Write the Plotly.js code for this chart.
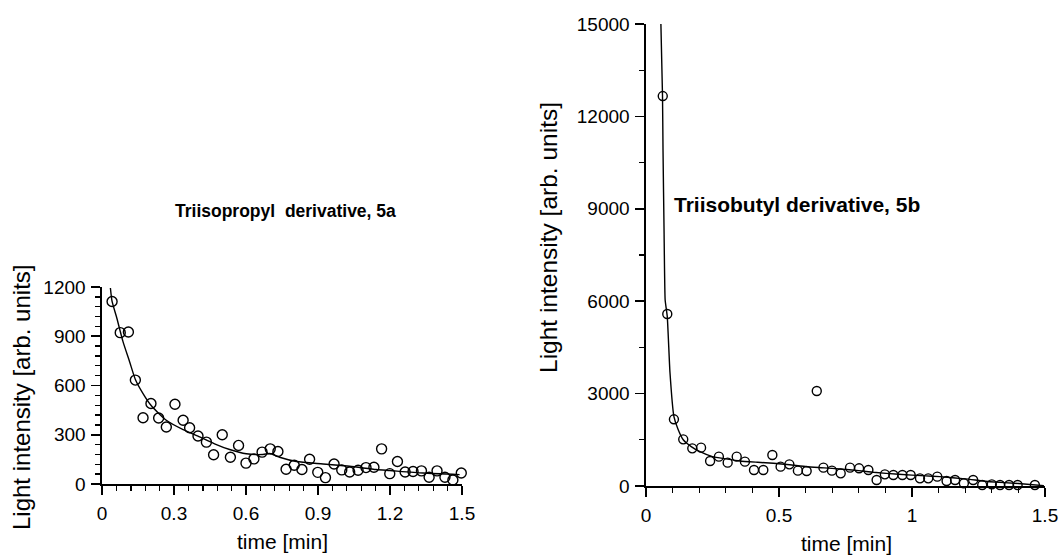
<!DOCTYPE html>
<html>
<head>
<meta charset="utf-8">
<script src="https://cdn.plot.ly/plotly-3.0.1.min.js"></script>
<style>
html,body{margin:0;padding:0;background:#fff;}
#chart{width:1061px;height:555px;}
</style>
</head>
<body>
<div id="chart"></div>
<script>
// Panel 5a: Triisopropyl derivative (measured points)
const timeA = [0.042,0.076,0.110,0.139,0.171,0.204,0.236,0.268,0.304,0.338,0.365,0.400,0.435,0.465,0.501,0.535,0.569,0.600,0.633,0.667,0.701,0.733,0.767,0.801,0.833,0.865,0.899,0.931,0.967,0.999,1.032,1.067,1.100,1.133,1.165,1.199,1.231,1.263,1.296,1.331,1.363,1.396,1.429,1.462,1.497];
const intensityA = [1112,922,926,633,404,490,402,347,486,388,343,292,255,178,300,163,235,127,153,194,214,198,90,114,88,151,71,39,122,86,73,84,100,102,214,63,137,73,76,80,41,80,41,24,67];
// Panel 5a fitted curve
const fitTimeA = [0.035,0.042,0.060,0.0875,0.115,0.139,0.171,0.204,0.268,0.338,0.400,0.469,0.532,0.601,0.671,0.699,0.740,0.810,0.921,1.032,1.143,1.199,1.337,1.490];
const fitIntensityA = [1194,1112,1020,867,745,637,551,480,388,331,292,245,210,184,180,186,163,137,122,108,88,82,67,57];

// Panel 5b: Triisobutyl derivative (measured points)
const timeB = [0.063,0.080,0.105,0.140,0.174,0.207,0.241,0.274,0.307,0.341,0.372,0.406,0.441,0.475,0.506,0.539,0.571,0.604,0.642,0.667,0.699,0.732,0.767,0.801,0.836,0.867,0.898,0.930,0.964,0.995,1.030,1.061,1.095,1.130,1.162,1.195,1.230,1.264,1.300,1.331,1.365,1.397,1.429,1.462,1.496];
const intensityB = [12660,5584,2165,1515,1223,1245,812,953,758,953,790,520,520,1006,628,703,498,487,3084,595,498,411,595,574,520,195,379,357,357,357,249,249,303,162,195,87,195,32,54,32,32,32,-76,32,-22];
// Panel 5b fitted curve
const fitTimeB = [0.056,0.062,0.064,0.068,0.072,0.080,0.090,0.105,0.120,0.140,0.170,0.203,0.250,0.300,0.353,0.420,0.479,0.540,0.604,0.670,0.729,0.800,0.855,0.950,1.050,1.105,1.200,1.293,1.400,1.496];
const fitIntensityB = [15000,12700,10900,8200,6040,5500,3700,2250,1850,1500,1280,1114,953,880,812,770,737,690,627,590,552,500,444,380,330,303,230,140,80,10];

// Tick labels
const xTicksA = [0, 0.3, 0.6, 0.9, 1.2, 1.5];
const xTickTextA = ['0', '0.3', '0.6', '0.9', '1.2', '1.5'];
const yTicksA = [0, 300, 600, 900, 1200];
const yTickTextA = ['0', '300', '600', '900', '1200'];
const xTicksB = [0, 0.5, 1, 1.5];
const xTickTextB = ['0', '0.5', '1', '1.5'];
const yTicksB = [0, 3000, 6000, 9000, 12000, 15000];
const yTickTextB = ['0', '3000', '6000', '9000', '12000', '15000'];

const titleA = "Triisopropyl  derivative, 5a";
const titleB = "Triisobutyl derivative, 5b";
const xTitle = "time [min]";
const yTitle = "Light intensity [arb. units]";

const W = 1061, H = 555;
const FONT = "Liberation Sans, Arial, Helvetica, sans-serif";
const px = v => v / W;
const py = v => 1 - v / H;

const domXA = [px(102), px(462)], domYA = [py(484), py(287)];
const domXB = [px(646), px(1045)], domYB = [py(486), py(24)];

const traces = [
  {x: fitTimeA, y: fitIntensityA, mode: 'lines', line: {color: '#000', width: 1.4, shape: 'spline', smoothing: 0.6}, xaxis: 'x', yaxis: 'y', hoverinfo: 'skip'},
  {x: timeA, y: intensityA, mode: 'markers', marker: {symbol: 'circle-open', size: 10, color: '#000', line: {width: 1.4, color: '#000'}}, xaxis: 'x', yaxis: 'y', cliponaxis: false},
  {x: fitTimeB, y: fitIntensityB, mode: 'lines', line: {color: '#000', width: 1.4, shape: 'spline', smoothing: 0.4}, xaxis: 'x2', yaxis: 'y2', hoverinfo: 'skip'},
  {x: timeB, y: intensityB, mode: 'markers', marker: {symbol: 'circle-open', size: 9, color: '#000', line: {width: 1.4, color: '#000'}}, xaxis: 'x2', yaxis: 'y2', cliponaxis: false}
];

const axisCommon = {
  showline: true, linecolor: '#000', linewidth: 1.6, showgrid: false, zeroline: false,
  ticks: 'outside', tickcolor: '#000', tickwidth: 1.6, ticklen: 9,
  tickfont: {family: FONT, size: 19, color: '#000'}, fixedrange: true, tickmode: 'array'
};
const minorSpec = dt => ({tickmode: 'linear', tick0: 0, dtick: dt, ticks: 'outside', ticklen: 5, tickwidth: 1.4, tickcolor: '#000', showgrid: false});

const layout = {
  width: W, height: H,
  margin: {l: 0, r: 0, t: 0, b: 0},
  paper_bgcolor: '#fff', plot_bgcolor: 'rgba(0,0,0,0)',
  showlegend: false,
  xaxis: Object.assign({}, axisCommon, {domain: domXA, range: [0, 1.5], tickvals: xTicksA, ticktext: xTickTextA, ticklabelstandoff: 3, anchor: 'y', minor: minorSpec(0.06)}),
  yaxis: Object.assign({}, axisCommon, {domain: domYA, range: [0, 1200], tickvals: yTicksA, ticktext: yTickTextA, ticklabelstandoff: 2, anchor: 'x', minor: minorSpec(60)}),
  xaxis2: Object.assign({}, axisCommon, {domain: domXB, range: [0, 1.5], tickvals: xTicksB, ticktext: xTickTextB, ticklabelstandoff: 3, anchor: 'y2', minor: minorSpec(0.1)}),
  yaxis2: Object.assign({}, axisCommon, {domain: domYB, range: [0, 15000], tickvals: yTicksB, ticktext: yTickTextB, ticklabelstandoff: 2, anchor: 'x2', minor: minorSpec(1500)}),
  annotations: [
    {text: titleA, xref: 'paper', yref: 'paper', x: px(285), y: py(211), xanchor: 'center', yanchor: 'middle', showarrow: false, font: {family: FONT, size: 17.5, color: '#000', weight: 'bold'}},
    {text: titleB, xref: 'paper', yref: 'paper', x: px(797), y: py(204), xanchor: 'center', yanchor: 'middle', showarrow: false, font: {family: FONT, size: 21, color: '#000', weight: 'bold'}},
    {text: xTitle, xref: 'paper', yref: 'paper', x: px(282), y: py(541), xanchor: 'center', yanchor: 'middle', showarrow: false, font: {family: FONT, size: 21, color: '#000'}},
    {text: xTitle, xref: 'paper', yref: 'paper', x: px(846), y: py(543), xanchor: 'center', yanchor: 'middle', showarrow: false, font: {family: FONT, size: 21, color: '#000'}},
    {text: yTitle, xref: 'paper', yref: 'paper', x: px(21), y: py(398), xanchor: 'center', yanchor: 'middle', textangle: -90, showarrow: false, font: {family: FONT, size: 24, color: '#000'}},
    {text: yTitle, xref: 'paper', yref: 'paper', x: px(548), y: py(238), xanchor: 'center', yanchor: 'middle', textangle: -90, showarrow: false, font: {family: FONT, size: 24.5, color: '#000'}}
  ]
};

Plotly.newPlot('chart', traces, layout, {displayModeBar: false, staticPlot: true});
</script>
</body>
</html>
